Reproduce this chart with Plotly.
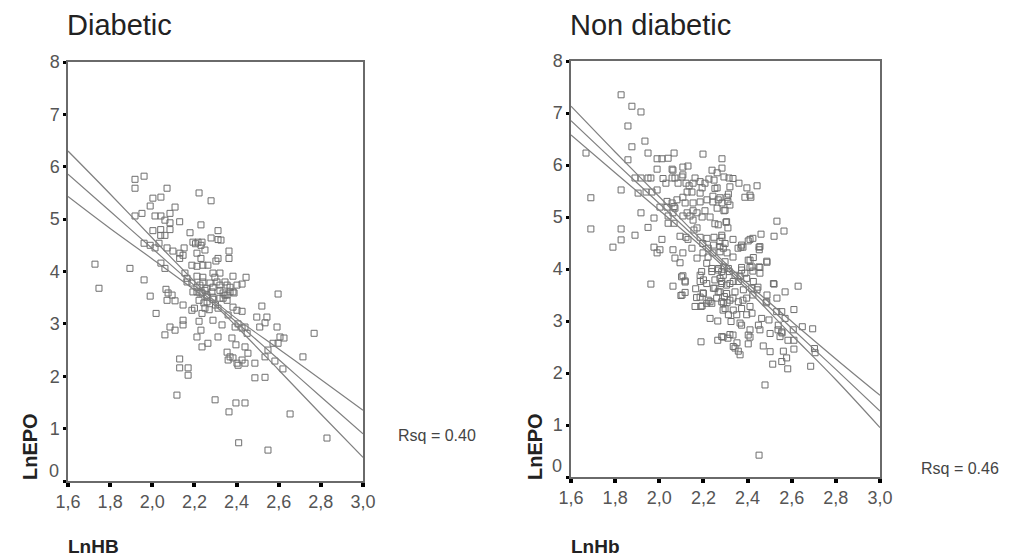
import plotly.graph_objects as go

# ---------------- data ----------------
diab_points = [
    (1.918,5.76),(1.918,5.59),(1.961,5.82),(2.07,5.59),(2.003,5.40),(2.041,5.42),(1.99,5.25),(2.108,5.23),(2.222,5.50),(2.279,5.35),
    (1.918,5.06),(1.951,5.11),(2.013,5.06),(2.041,5.06),(2.084,5.11),(2.06,4.98),(2.084,4.93),(2.13,4.95),(2.231,4.89),
    (2.003,4.78),(2.04,4.80),(2.084,4.80),(2.04,4.69),(2.06,4.69),(2.179,4.74),(2.312,4.78),(2.279,4.64),(2.312,4.61),(2.326,4.60),
    (2.193,4.56),(2.217,4.56),(2.236,4.56),(2.205,4.53),(2.231,4.50),(1.961,4.54),(1.99,4.50),(2.032,4.54),(2.013,4.45),(2.07,4.45),
    (2.098,4.39),(2.131,4.35),(2.151,4.45),(2.212,4.35),(2.25,4.41),(2.364,4.39),(2.13,4.25),(2.146,4.31),(2.188,4.12),(2.212,4.10),
    (2.24,4.12),(2.264,4.12),(2.231,4.25),(2.312,4.25),(2.364,4.25),(2.302,4.20),(2.041,4.16),(2.06,4.06),(1.728,4.14),(1.894,4.06),
    (1.747,3.68),(1.961,3.84),(1.99,3.53),(2.155,3.97),(2.165,3.87),(2.212,3.91),(2.24,3.89),(2.288,3.97),(2.297,3.89),(2.321,3.97),
    (2.383,3.91),(2.426,3.76),(2.445,3.89),(2.402,3.74),(2.355,3.74),(2.597,3.57),
    (2.165,3.80),(2.188,3.78),(2.212,3.70),(2.226,3.74),(2.24,3.80),(2.259,3.68),(2.274,3.78),(2.288,3.70),(2.307,3.80),(2.321,3.74),
    (2.345,3.80),(2.369,3.70),(2.383,3.61),(2.212,3.61),(2.236,3.59),(2.25,3.64),(2.283,3.61),(2.321,3.64),(2.336,3.59),(2.355,3.55),
    (2.369,3.61),(2.259,3.55),(2.288,3.51),(2.226,3.59),(2.259,3.51),(2.288,3.47),(2.321,3.49),(2.345,3.55),(2.193,3.61),
    (2.20,3.30),(2.27,3.27),(2.30,3.36),(2.25,3.30),
    (2.018,3.20),(2.06,2.79),(2.084,2.94),(2.108,2.88),(2.065,3.66),(2.075,3.59),(2.094,3.55),(2.07,3.45),(2.108,3.44),(2.146,3.36),
    (2.146,3.07),(2.146,2.98),(2.13,2.33),(2.13,2.16),(2.17,2.16),(2.17,2.02),(2.117,1.64),
    (2.188,3.26),(2.212,2.75),(2.222,3.05),(2.231,2.88),(2.236,2.56),(2.264,2.63),(2.288,3.07),(2.312,2.75),(2.222,3.45),(2.245,3.40),
    (2.26,3.42),(2.236,3.20),(2.298,1.55),(2.364,1.32),
    (2.312,3.30),(2.336,3.49),(2.355,3.45),(2.331,2.98),(2.36,3.17),(2.378,2.73),(2.355,2.46),(2.36,2.31),(2.383,2.35),(2.369,2.37),
    (2.397,2.60),(2.402,2.25),(2.407,2.21),(2.426,2.31),(2.44,2.25),(2.393,2.94),(2.407,3.00),(2.426,2.92),(2.44,2.94),(2.45,2.82),
    (2.397,1.49),(2.44,1.49),(2.41,0.73),(2.383,3.32),(2.402,3.26),(2.426,3.24),(2.388,3.59),(2.44,2.56),(2.454,2.44),
    (2.487,2.25),(2.487,1.97),(2.496,3.13),(2.52,3.34),(2.51,2.94),(2.535,1.98),(2.544,3.13),(2.535,3.02),(2.535,2.37),(2.549,2.50),
    (2.592,2.94),(2.573,2.63),(2.597,2.63),(2.606,2.75),(2.625,2.73),(2.582,2.29),(2.62,2.14),(2.549,0.59),(2.654,1.28),(2.715,2.37),
    (2.768,2.82),(2.829,0.82),
]

nondiab_points = [
    (1.827,7.35),(1.876,7.13),(1.917,7.02),(1.858,6.75),(1.935,6.46),(1.876,6.35),(1.949,6.23),(1.668,6.23),(2.067,6.23),(2.198,6.21),
    (1.858,6.10),(1.99,6.12),(2.012,6.12),(2.04,6.13),(2.284,6.12),(1.99,5.92),(2.107,5.96),(2.13,5.98),(2.239,5.90),(2.284,5.94),
    (2.262,5.85),(2.058,5.92),(2.062,5.90),
    (1.89,5.75),(1.917,5.75),(1.949,5.75),(1.962,5.75),(2.017,5.74),(2.058,5.75),(2.071,5.75),(2.103,5.77),(2.107,5.81),(2.162,5.75),
    (2.185,5.68),(2.225,5.73),(2.248,5.71),(2.293,5.77),(2.316,5.75),(2.334,5.74),
    (2.361,5.65),(2.397,5.56),(2.443,5.60),(2.415,5.38),(2.388,5.38),
    (1.827,5.52),(1.904,5.46),(1.94,5.48),(1.967,5.48),(1.99,5.52),
    (2.03,5.65),(2.085,5.65),(2.121,5.65),(2.135,5.60),(2.153,5.65),(2.194,5.56),(2.207,5.65),(2.262,5.56),(2.126,5.48),(2.107,5.38),
    (2.148,5.48),(2.185,5.46),
    (2.243,5.40),(2.275,5.37),(2.307,5.38),(2.311,5.30),(2.284,5.27),(2.243,5.29),(2.216,5.33),(2.185,5.29),(2.153,5.27),(2.117,5.27),
    (2.08,5.33),(2.058,5.27),(2.035,5.30),(2.067,5.20),
    (2.003,5.19),(2.035,5.19),(2.071,5.17),(2.32,5.23),(2.293,5.12),(2.262,5.17),(2.207,5.12),(2.171,5.08),(2.153,5.12),
    (1.917,5.08),(1.976,4.98),(2.04,5.02),(2.062,5.08),(2.107,5.02),(2.126,5.08),(2.139,5.02),(2.153,4.94),(2.194,5.00),(2.23,5.00),
    (2.302,4.90),(2.252,4.87),(2.311,4.79),
    (2.04,4.88),(2.067,4.88),(2.533,4.92),(2.565,4.73),(2.52,4.63),(2.461,4.67),
    (1.69,5.37),(1.69,4.77),(1.827,4.77),(1.827,4.56),(1.89,4.65),(1.79,4.42),(1.949,4.80),(2.012,4.57),(1.976,4.42),(1.99,4.31),
    (2.003,4.37),(1.962,3.71),(2.062,3.67),
    (2.094,4.63),(2.13,4.57),(2.121,4.61),(2.157,4.75),(2.171,4.79),(2.185,4.61),(2.216,4.59),(2.248,4.61),(2.284,4.61),(2.334,4.57),
    (2.37,4.42),(2.411,4.57),(2.424,4.59),(2.452,4.42),
    (2.062,4.37),(2.071,4.21),(2.094,4.12),(2.107,4.31),(2.148,4.40),(2.171,4.21),(2.198,4.31),(2.221,4.23),(2.243,4.31),(2.275,4.33),
    (2.307,4.31),(2.334,4.23),(2.357,4.40),(2.379,4.42),
    (2.411,4.17),(2.42,4.04),(2.452,4.04),(2.424,3.96),(2.456,3.92),(2.488,4.13),(2.388,3.92),(2.366,3.85),(2.107,3.87),(2.117,3.75),
    (2.52,3.71),(2.57,3.56),(2.629,3.67),(2.488,3.50),(2.533,3.44),
    (2.32,5.58),(2.411,5.42),(2.313,5.44),(2.298,5.13),(2.267,5.33),(2.252,5.55),
    (2.305,4.91),(2.283,4.65),(2.373,4.46),(2.403,4.54),(2.456,4.43),(2.453,4.37),(2.426,4.22),(2.403,4.17),(2.487,4.15),(2.456,4.03),
    (2.411,4.03),(2.373,4.03),(2.29,4.40),(2.267,4.85),(2.275,4.53),(2.298,4.14),
    (2.197,4.49),(2.222,4.40),(2.245,4.46),(2.275,4.43),(2.298,4.49),(2.215,4.11),(2.238,4.01),(2.267,3.98),(2.293,4.04),(2.317,3.95),
    (2.192,3.95),(2.215,3.72),(2.275,3.82),(2.305,3.69),(2.335,3.76),(2.252,3.63),
    (2.101,3.85),(2.117,3.77),(2.098,3.49),(2.117,3.55),(2.165,3.62),(2.185,3.88),(2.20,3.79),(2.185,3.76),(2.169,3.45),(2.20,3.53),
    (2.222,3.40),(2.215,3.34),(2.238,3.34),(2.162,3.28),(2.189,3.28),(2.23,3.05),(2.265,3.00),(2.189,2.60),(2.265,2.63),(2.283,2.70),
    (2.238,3.95),(2.268,4.01),(2.29,3.88),(2.252,3.79),(2.283,3.72),(2.245,3.63),(2.275,3.56),(2.295,3.47),(2.26,3.44),(2.29,3.34),
    (2.283,3.95),(2.313,4.01),(2.343,3.88),(2.283,3.76),(2.32,3.72),(2.358,3.76),(2.396,3.82),(2.426,3.76),(2.267,3.56),(2.305,3.53),
    (2.343,3.56),(2.381,3.60),(2.419,3.63),(2.283,3.37),(2.32,3.40),(2.358,3.37),(2.396,3.44),(2.298,3.24),(2.335,3.21),(2.373,3.24),
    (2.411,3.28),(2.313,3.12),(2.351,3.12),(2.396,3.12),
    (2.373,3.98),(2.517,3.72),(2.487,3.37),(2.61,3.22),(2.532,3.18),(2.555,3.18),(2.57,3.05),(2.464,3.05),(2.449,2.92),(2.502,2.76),
    (2.456,2.83),(2.539,2.92),(2.555,2.79),(2.547,2.70),(2.607,2.83),(2.648,2.89),(2.695,2.85),(2.61,2.46),(2.562,2.42),(2.577,2.29),
    (2.514,2.17),(2.555,2.22),(2.582,2.08),(2.686,2.13),(2.703,2.47),(2.706,2.39),(2.479,1.77),(2.471,2.52),(2.502,2.41),(2.403,2.56),
    (2.366,2.35),(2.358,2.42),(2.335,2.51),(2.32,2.74),(2.403,2.73),(2.325,2.99),(2.373,2.92),
    (2.103,3.50),(2.185,3.46),(2.194,3.29),(2.23,3.37),(2.198,3.54),(2.289,2.69),(2.311,2.67),(2.334,2.73),(2.352,2.58),(2.343,2.48),
    (2.411,2.69),(2.411,2.83),(2.289,3.21),(2.307,3.35),(2.334,3.44),(2.379,3.40),(2.42,3.15),(2.366,2.96),(2.424,3.50),(2.443,3.60),
    (2.447,3.65),(2.484,3.35),(2.452,0.42),(2.497,3.02),(2.583,2.63),(2.61,2.63),(2.556,2.77),(2.538,2.83),
]

# fit line and confidence band, read at these x positions
line_x = [1.6, 1.8, 2.0, 2.2, 2.3, 2.4, 2.6, 2.8, 3.0]
diab_fit   = [5.86, 5.15, 4.44, 3.73, 3.38, 3.03, 2.32, 1.61, 0.90]
diab_upper = [6.30, 5.48, 4.64, 3.81, 3.42, 3.10, 2.52, 1.94, 1.35]
diab_lower = [5.43, 4.82, 4.24, 3.65, 3.34, 2.95, 2.12, 1.28, 0.45]
nond_fit   = [6.85, 6.05, 5.26, 4.46, 4.06, 3.66, 2.86, 2.07, 1.27]
nond_upper = [7.13, 6.25, 5.39, 4.52, 4.11, 3.72, 2.99, 2.27, 1.57]
nond_lower = [6.58, 5.85, 5.13, 4.40, 4.01, 3.60, 2.73, 1.87, 0.95]

x_ticks = [1.6, 1.8, 2.0, 2.2, 2.4, 2.6, 2.8, 3.0]
x_tick_text = ["1,6", "1,8", "2,0", "2,2", "2,4", "2,6", "2,8", "3,0"]
y_ticks = [0, 1, 2, 3, 4, 5, 6, 7, 8]
y_tick_text = ["", "1", "2", "3", "4", "5", "6", "7", "8"]

panel_titles = ["Diabetic", "Non diabetic"]
x_titles = ["LnHB", "LnHb"]
y_title = "LnEPO"
rsq_texts = ["Rsq = 0.40", "Rsq = 0.46"]

# ---------------- figure ----------------
W, H = 1022, 558
OFF = 8  # the page body adds an 8px margin; positions below are screen pixels
TICKFONT = dict(family="Liberation Sans Narrow, Arial Narrow, Arial", size=18, color="#555555")
MARK = dict(symbol="square-open", size=6, color="#6e6e6e", line=dict(width=1, color="#6e6e6e"))
LINE = dict(color="#808080", width=1.2)

fig = go.Figure()

panels = [
    (diab_points, diab_fit, diab_upper, diab_lower, "x", "y"),
    (nondiab_points, nond_fit, nond_upper, nond_lower, "x2", "y2"),
]
for pts, fit, up, lo, xa, ya in panels:
    fig.add_trace(go.Scatter(x=[p[0] for p in pts], y=[p[1] for p in pts], mode="markers",
                             marker=MARK, xaxis=xa, yaxis=ya, showlegend=False, hoverinfo="skip"))
    for ys in (up, fit, lo):
        fig.add_trace(go.Scatter(x=line_x, y=ys, mode="lines", line=dict(shape="spline", **LINE),
                                 xaxis=xa, yaxis=ya, showlegend=False, hoverinfo="skip"))

def px_x(v):
    return (v - OFF) / W

def px_y(v):
    return 1 - (v - OFF) / H

xaxis_common = dict(range=[1.6, 3.0], tickvals=x_ticks, ticktext=x_tick_text, tickfont=TICKFONT,
                    showgrid=False, zeroline=False, showline=True, linecolor="#6a6a6a", linewidth=1.5,
                    mirror=True, ticks="outside", ticklen=4, tickwidth=4, tickcolor="#000000",
                    automargin=False)
yaxis_common = dict(range=[0, 8], tickvals=y_ticks, ticktext=y_tick_text, tickfont=TICKFONT,
                    showgrid=False, zeroline=False, showline=True, linecolor="#6a6a6a", linewidth=1.5,
                    mirror=True, ticks="outside", ticklen=3, tickwidth=3, tickcolor="#000000",
                    automargin=False)

fig.update_layout(
    template="none",
    width=W, height=H,
    margin=dict(l=0, r=0, t=0, b=0, pad=0, autoexpand=False),
    paper_bgcolor="white", plot_bgcolor="white",
    xaxis=dict(domain=[px_x(68), px_x(363)], anchor="y", **xaxis_common),
    yaxis=dict(domain=[px_y(481), px_y(62)], anchor="x", **yaxis_common),
    xaxis2=dict(domain=[px_x(571), px_x(880)], anchor="y2", **xaxis_common),
    yaxis2=dict(domain=[px_y(477), px_y(61)], anchor="x2", **yaxis_common),
)

ann = []
TITLEFONT = dict(family="Liberation Sans, Arial", size=29, color="#222222")
XLABFONT = dict(family="Liberation Sans, Arial", size=19, color="#222222")
YLABFONT = dict(family="Liberation Sans, Arial", size=20, color="#222222")
RSQFONT = dict(family="Liberation Sans Narrow, Arial Narrow, Arial", size=16, color="#444444")
# titles (top of their text box at the top edge of the figure)
ann.append(dict(text=panel_titles[0], x=px_x(66), y=1, xref="paper", yref="paper",
                xanchor="left", yanchor="top", showarrow=False, font=TITLEFONT, borderpad=0))
ann.append(dict(text=panel_titles[1], x=px_x(569), y=1, xref="paper", yref="paper",
                xanchor="left", yanchor="top", showarrow=False, font=TITLEFONT, borderpad=0))
# x titles
ann.append(dict(text="<b>" + x_titles[0] + "</b>", x=px_x(66), y=px_y(546), xref="paper", yref="paper",
                xanchor="left", yanchor="middle", showarrow=False, font=XLABFONT))
ann.append(dict(text="<b>" + x_titles[1] + "</b>", x=px_x(569), y=px_y(546), xref="paper", yref="paper",
                xanchor="left", yanchor="middle", showarrow=False, font=XLABFONT))
# y titles
ann.append(dict(text="<b>" + y_title + "</b>", x=px_x(30), y=px_y(447), xref="paper", yref="paper",
                xanchor="center", yanchor="middle", textangle=-90, showarrow=False, font=YLABFONT))
ann.append(dict(text="<b>" + y_title + "</b>", x=px_x(535), y=px_y(447), xref="paper", yref="paper",
                xanchor="center", yanchor="middle", textangle=-90, showarrow=False, font=YLABFONT))
# Rsq
ann.append(dict(text=rsq_texts[0], x=px_x(396), y=px_y(435), xref="paper", yref="paper",
                xanchor="left", yanchor="middle", showarrow=False, font=RSQFONT))
ann.append(dict(text=rsq_texts[1], x=px_x(919), y=px_y(468), xref="paper", yref="paper",
                xanchor="left", yanchor="middle", showarrow=False, font=RSQFONT))
# "0" labels (drawn slightly above the axis, as in the original)
ann.append(dict(text="0", x=px_x(61), y=px_y(471), xref="paper", yref="paper",
                xanchor="right", yanchor="middle", showarrow=False, font=TICKFONT))
ann.append(dict(text="0", x=px_x(564), y=px_y(466), xref="paper", yref="paper",
                xanchor="right", yanchor="middle", showarrow=False, font=TICKFONT))
fig.update_layout(annotations=ann)

fig.write_html("out.html")
